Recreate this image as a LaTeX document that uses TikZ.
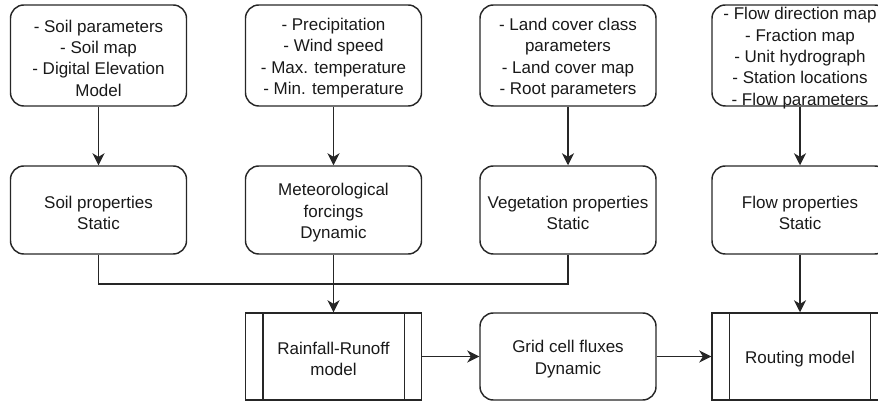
\documentclass[tikz,border=0pt]{standalone}
\usepackage{fontspec}
\setmainfont{Liberation Sans}
\usetikzlibrary{arrows.meta}
\begin{document}
\begin{tikzpicture}[x=0.75pt,y=-0.75pt,
  txt/.style={align=center, inner sep=0pt, yshift=-2pt,
    font=\fontsize{12.75}{16}\selectfont, text=black!90},
  box/.style={draw=black!85, line width=1.1pt, rounded corners=10pt,
    inner sep=0pt, minimum width=132pt, label={[txt]center:{#1}}},
  topbox/.style={box={#1}, minimum height=75.75pt},
  midbox/.style={box={#1}, minimum height=66pt},
  procbox/.style={box={#1}, rounded corners=0pt, minimum height=65.25pt},
  gridbox/.style={box={#1}, minimum height=65.25pt},
  conn/.style={draw=black!85, line width=1.1pt},
  arr/.style={conn, -{Stealth[length=9pt,width=9pt,inset=2.7pt]}}]
\useasboundingbox (0,0) rectangle (878,402);
\clip (0,0) rectangle (878,402);
% top row
\node[topbox={- Soil parameters\\- Soil map\\- Digital Elevation\\Model}] (t1) at (98.5,55.5) {};
\node[topbox={- Precipitation\\- Wind speed\\- Max. temperature\\- Min. temperature}] (t2) at (333.5,55.5) {};
\node[topbox={- Land cover class\\parameters\\- Land cover map\\- Root parameters}] (t3) at (568,55.5) {};
\node[topbox={- Flow direction map\\- Fraction map\\- Unit hydrograph\\- Station locations\\- Flow parameters}] (t4) at (800,55.5) {};
% middle row
\node[midbox={Soil properties\\Static}] (m1) at (98.5,210) {};
\node[midbox={Meteorological\\forcings\\Dynamic}] (m2) at (333.5,210) {};
\node[midbox={Vegetation properties\\Static}] (m3) at (568,210) {};
\node[midbox={Flow properties\\Static}] (m4) at (800,210) {};
% bottom row
\node[procbox={Rainfall-Runoff\\model}] (rr) at (333.5,356.5) {};
\node[gridbox={Grid cell fluxes\\Dynamic}] (gf) at (568,356.5) {};
\node[procbox={Routing model}] (ro) at (800,356.5) {};
\draw[conn] ([xshift=13.5pt]rr.north west) -- ([xshift=13.5pt]rr.south west);
\draw[conn] ([xshift=-13.5pt]rr.north east) -- ([xshift=-13.5pt]rr.south east);
\draw[conn] ([xshift=13.5pt]ro.north west) -- ([xshift=13.5pt]ro.south west);
\draw[conn] ([xshift=-13.5pt]ro.north east) -- ([xshift=-13.5pt]ro.south east);
% connectors
\draw[arr] (t1) -- (m1);
\draw[arr] (t2) -- (m2);
\draw[arr] (t3) -- (m3);
\draw[arr] (t4) -- (m4);
\coordinate (j) at (333.5,284);
\draw[conn] (m1.south) |- (j);
\draw[conn] (m3.south) |- (j);
\draw[arr] (m2) -- (rr);
\draw[arr] (rr) -- (gf);
\draw[arr] (gf) -- (ro);
\draw[arr] (m4) -- (ro);
\end{tikzpicture}
\end{document}
